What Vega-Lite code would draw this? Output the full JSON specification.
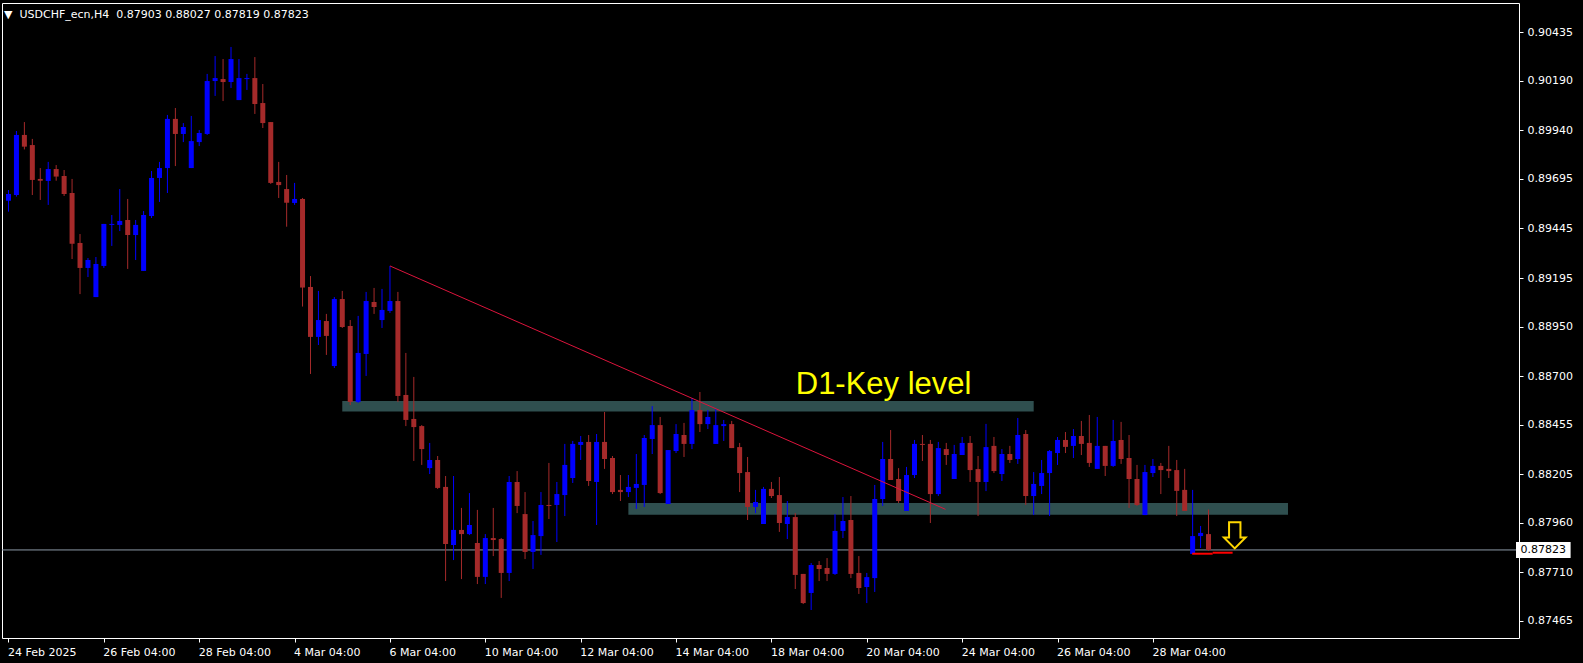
{
  "$schema": "https://vega.github.io/schema/vega-lite/v6.json",
  "width": 1517,
  "height": 635,
  "autosize": {"type": "none"},
  "padding": {"left": 2, "top": 3, "right": 64, "bottom": 25},
  "background": "#000000",
  "title": {
    "text": "▼\u00a0\u00a0USDCHF_ecn,H4\u00a0\u00a00.87903 0.88027 0.87819 0.87823",
    "anchor": "start",
    "frame": "group",
    "orient": "top",
    "baseline": "top",
    "offset": -17,
    "dx": 2,
    "font": "DejaVu Sans",
    "fontSize": 11,
    "fontWeight": "normal",
    "color": "#FFFFFF"
  },
  "config": {
    "view": {"stroke": "#FFFFFF", "strokeWidth": 1},
    "axis": {
      "grid": false,
      "domain": false,
      "tickColor": "#FFFFFF",
      "tickSize": 4,
      "labelColor": "#FFFFFF",
      "labelFont": "DejaVu Sans",
      "labelFontSize": 11,
      "labelOverlap": false,
      "labelFlush": false,
      "labelBound": false
    }
  },
  "datasets": {
    "candles": [
      {"i":0,"o":0.89585,"h":0.89639,"l":0.89530,"c":0.89619},
      {"i":1,"o":0.89614,"h":0.89937,"l":0.89606,"c":0.89917},
      {"i":2,"o":0.89917,"h":0.89982,"l":0.89844,"c":0.89858},
      {"i":3,"o":0.89866,"h":0.89897,"l":0.89614,"c":0.89690},
      {"i":4,"o":0.89695,"h":0.89750,"l":0.89589,"c":0.89686},
      {"i":5,"o":0.89685,"h":0.89781,"l":0.89564,"c":0.89745},
      {"i":6,"o":0.89745,"h":0.89765,"l":0.89686,"c":0.89707},
      {"i":7,"o":0.89710,"h":0.89740,"l":0.89609,"c":0.89619},
      {"i":8,"o":0.89624,"h":0.89695,"l":0.89291,"c":0.89368},
      {"i":9,"o":0.89372,"h":0.89417,"l":0.89114,"c":0.89246},
      {"i":10,"o":0.89246,"h":0.89296,"l":0.89200,"c":0.89286},
      {"i":11,"o":0.89099,"h":0.89301,"l":0.89099,"c":0.89266},
      {"i":12,"o":0.89256,"h":0.89468,"l":0.89246,"c":0.89468},
      {"i":13,"o":0.89463,"h":0.89513,"l":0.89357,"c":0.89468},
      {"i":14,"o":0.89463,"h":0.89644,"l":0.89432,"c":0.89483},
      {"i":15,"o":0.89488,"h":0.89594,"l":0.89241,"c":0.89412},
      {"i":16,"o":0.89412,"h":0.89488,"l":0.89286,"c":0.89463},
      {"i":17,"o":0.89231,"h":0.89533,"l":0.89231,"c":0.89513},
      {"i":18,"o":0.89508,"h":0.89735,"l":0.89498,"c":0.89700},
      {"i":19,"o":0.89700,"h":0.89781,"l":0.89579,"c":0.89750},
      {"i":20,"o":0.89750,"h":0.90018,"l":0.89624,"c":0.89998},
      {"i":21,"o":0.89998,"h":0.90053,"l":0.89760,"c":0.89922},
      {"i":22,"o":0.89922,"h":0.89977,"l":0.89881,"c":0.89957},
      {"i":23,"o":0.89750,"h":0.90013,"l":0.89750,"c":0.89886},
      {"i":24,"o":0.89881,"h":0.89942,"l":0.89861,"c":0.89927},
      {"i":25,"o":0.89922,"h":0.90225,"l":0.89917,"c":0.90189},
      {"i":26,"o":0.90189,"h":0.90315,"l":0.90114,"c":0.90204},
      {"i":27,"o":0.90199,"h":0.90300,"l":0.90088,"c":0.90184},
      {"i":28,"o":0.90184,"h":0.90361,"l":0.90154,"c":0.90300},
      {"i":29,"o":0.90093,"h":0.90300,"l":0.90093,"c":0.90204},
      {"i":30,"o":0.90199,"h":0.90225,"l":0.90144,"c":0.90204},
      {"i":31,"o":0.90204,"h":0.90310,"l":0.90023,"c":0.90073},
      {"i":32,"o":0.90078,"h":0.90174,"l":0.89952,"c":0.89977},
      {"i":33,"o":0.89982,"h":0.89982,"l":0.89670,"c":0.89675},
      {"i":34,"o":0.89680,"h":0.89781,"l":0.89599,"c":0.89664},
      {"i":35,"o":0.89644,"h":0.89715,"l":0.89454,"c":0.89575},
      {"i":36,"o":0.89574,"h":0.89675,"l":0.89564,"c":0.89594},
      {"i":37,"o":0.89594,"h":0.89599,"l":0.89051,"c":0.89147},
      {"i":38,"o":0.89150,"h":0.89205,"l":0.88711,"c":0.88898},
      {"i":39,"o":0.88898,"h":0.89130,"l":0.88857,"c":0.88983},
      {"i":40,"o":0.88978,"h":0.89014,"l":0.88807,"c":0.88903},
      {"i":41,"o":0.88751,"h":0.89099,"l":0.88741,"c":0.89089},
      {"i":42,"o":0.89089,"h":0.89130,"l":0.88943,"c":0.88948},
      {"i":43,"o":0.88953,"h":0.88983,"l":0.88554,"c":0.88570},
      {"i":44,"o":0.88570,"h":0.89004,"l":0.88565,"c":0.88817},
      {"i":45,"o":0.88812,"h":0.89125,"l":0.88701,"c":0.89079},
      {"i":46,"o":0.89074,"h":0.89145,"l":0.89014,"c":0.89049},
      {"i":47,"o":0.88983,"h":0.89140,"l":0.88943,"c":0.89034},
      {"i":48,"o":0.89029,"h":0.89256,"l":0.89019,"c":0.89079},
      {"i":49,"o":0.89079,"h":0.89125,"l":0.88570,"c":0.88600},
      {"i":50,"o":0.88605,"h":0.88817,"l":0.88448,"c":0.88479},
      {"i":51,"o":0.88484,"h":0.88696,"l":0.88272,"c":0.88443},
      {"i":52,"o":0.88448,"h":0.88453,"l":0.88252,"c":0.88332},
      {"i":53,"o":0.88236,"h":0.88363,"l":0.88206,"c":0.88277},
      {"i":54,"o":0.88277,"h":0.88297,"l":0.88131,"c":0.88136},
      {"i":55,"o":0.88141,"h":0.88196,"l":0.87666,"c":0.87853},
      {"i":56,"o":0.87848,"h":0.88196,"l":0.87772,"c":0.87924},
      {"i":57,"o":0.87924,"h":0.88035,"l":0.87676,"c":0.87903},
      {"i":58,"o":0.87903,"h":0.88110,"l":0.87898,"c":0.87949},
      {"i":59,"o":0.87858,"h":0.88025,"l":0.87651,"c":0.87687},
      {"i":60,"o":0.87687,"h":0.87903,"l":0.87651,"c":0.87883},
      {"i":61,"o":0.87883,"h":0.88035,"l":0.87792,"c":0.87873},
      {"i":62,"o":0.87878,"h":0.87883,"l":0.87581,"c":0.87707},
      {"i":63,"o":0.87707,"h":0.88196,"l":0.87666,"c":0.88166},
      {"i":64,"o":0.88166,"h":0.88221,"l":0.88009,"c":0.88045},
      {"i":65,"o":0.88004,"h":0.88115,"l":0.87777,"c":0.87813},
      {"i":66,"o":0.87813,"h":0.87969,"l":0.87727,"c":0.87898},
      {"i":67,"o":0.87893,"h":0.88115,"l":0.87798,"c":0.88050},
      {"i":68,"o":0.88050,"h":0.88262,"l":0.87979,"c":0.88045},
      {"i":69,"o":0.88050,"h":0.88166,"l":0.87863,"c":0.88105},
      {"i":70,"o":0.88100,"h":0.88358,"l":0.87994,"c":0.88252},
      {"i":71,"o":0.88186,"h":0.88373,"l":0.88161,"c":0.88358},
      {"i":72,"o":0.88353,"h":0.88398,"l":0.88277,"c":0.88368},
      {"i":73,"o":0.88368,"h":0.88403,"l":0.88146,"c":0.88171},
      {"i":74,"o":0.88166,"h":0.88408,"l":0.87949,"c":0.88368},
      {"i":75,"o":0.88368,"h":0.88519,"l":0.88232,"c":0.88282},
      {"i":76,"o":0.88287,"h":0.88297,"l":0.88105,"c":0.88115},
      {"i":77,"o":0.88126,"h":0.88201,"l":0.88070,"c":0.88115},
      {"i":78,"o":0.88115,"h":0.88201,"l":0.88090,"c":0.88141},
      {"i":79,"o":0.88136,"h":0.88307,"l":0.88030,"c":0.88156},
      {"i":80,"o":0.88151,"h":0.88403,"l":0.88040,"c":0.88388},
      {"i":81,"o":0.88383,"h":0.88549,"l":0.88307,"c":0.88453},
      {"i":82,"o":0.88453,"h":0.88494,"l":0.88105,"c":0.88110},
      {"i":83,"o":0.88055,"h":0.88327,"l":0.88055,"c":0.88327},
      {"i":84,"o":0.88322,"h":0.88458,"l":0.88312,"c":0.88408},
      {"i":85,"o":0.88403,"h":0.88464,"l":0.88292,"c":0.88358},
      {"i":86,"o":0.88358,"h":0.88590,"l":0.88332,"c":0.88529},
      {"i":87,"o":0.88529,"h":0.88620,"l":0.88418,"c":0.88458},
      {"i":88,"o":0.88458,"h":0.88529,"l":0.88433,"c":0.88494},
      {"i":89,"o":0.88358,"h":0.88534,"l":0.88358,"c":0.88453},
      {"i":90,"o":0.88448,"h":0.88479,"l":0.88373,"c":0.88458},
      {"i":91,"o":0.88458,"h":0.88474,"l":0.88337,"c":0.88337},
      {"i":92,"o":0.88342,"h":0.88363,"l":0.88115,"c":0.88211},
      {"i":93,"o":0.88216,"h":0.88292,"l":0.87974,"c":0.88040},
      {"i":94,"o":0.88040,"h":0.88126,"l":0.88009,"c":0.88065},
      {"i":95,"o":0.87954,"h":0.88141,"l":0.87954,"c":0.88131},
      {"i":96,"o":0.88131,"h":0.88166,"l":0.88085,"c":0.88095},
      {"i":97,"o":0.88100,"h":0.88191,"l":0.87914,"c":0.87959},
      {"i":98,"o":0.87954,"h":0.88070,"l":0.87878,"c":0.87989},
      {"i":99,"o":0.87989,"h":0.88009,"l":0.87626,"c":0.87697},
      {"i":100,"o":0.87702,"h":0.87702,"l":0.87550,"c":0.87555},
      {"i":101,"o":0.87606,"h":0.87757,"l":0.87520,"c":0.87747},
      {"i":102,"o":0.87747,"h":0.87767,"l":0.87666,"c":0.87727},
      {"i":103,"o":0.87732,"h":0.87782,"l":0.87666,"c":0.87702},
      {"i":104,"o":0.87702,"h":0.88004,"l":0.87697,"c":0.87919},
      {"i":105,"o":0.87919,"h":0.88090,"l":0.87883,"c":0.87969},
      {"i":106,"o":0.87974,"h":0.88095,"l":0.87681,"c":0.87702},
      {"i":107,"o":0.87707,"h":0.87792,"l":0.87601,"c":0.87631},
      {"i":108,"o":0.87636,"h":0.87707,"l":0.87555,"c":0.87686},
      {"i":109,"o":0.87681,"h":0.88151,"l":0.87611,"c":0.88080},
      {"i":110,"o":0.88080,"h":0.88368,"l":0.88045,"c":0.88282},
      {"i":111,"o":0.88282,"h":0.88428,"l":0.88176,"c":0.88176},
      {"i":112,"o":0.88181,"h":0.88236,"l":0.88060,"c":0.88070},
      {"i":113,"o":0.88020,"h":0.88242,"l":0.88020,"c":0.88201},
      {"i":114,"o":0.88201,"h":0.88378,"l":0.88186,"c":0.88358},
      {"i":115,"o":0.88358,"h":0.88403,"l":0.88272,"c":0.88353},
      {"i":116,"o":0.88358,"h":0.88378,"l":0.87959,"c":0.88105},
      {"i":117,"o":0.88105,"h":0.88368,"l":0.88095,"c":0.88337},
      {"i":118,"o":0.88332,"h":0.88363,"l":0.88252,"c":0.88302},
      {"i":119,"o":0.88181,"h":0.88353,"l":0.88181,"c":0.88307},
      {"i":120,"o":0.88302,"h":0.88393,"l":0.88302,"c":0.88363},
      {"i":121,"o":0.88363,"h":0.88398,"l":0.88166,"c":0.88226},
      {"i":122,"o":0.88231,"h":0.88297,"l":0.87994,"c":0.88166},
      {"i":123,"o":0.88166,"h":0.88459,"l":0.88120,"c":0.88342},
      {"i":124,"o":0.88348,"h":0.88393,"l":0.88211,"c":0.88221},
      {"i":125,"o":0.88206,"h":0.88332,"l":0.88171,"c":0.88307},
      {"i":126,"o":0.88307,"h":0.88348,"l":0.88262,"c":0.88277},
      {"i":127,"o":0.88282,"h":0.88489,"l":0.88257,"c":0.88403},
      {"i":128,"o":0.88408,"h":0.88428,"l":0.88050,"c":0.88095},
      {"i":129,"o":0.88095,"h":0.88216,"l":0.87999,"c":0.88156},
      {"i":130,"o":0.88146,"h":0.88277,"l":0.88105,"c":0.88211},
      {"i":131,"o":0.88211,"h":0.88327,"l":0.87994,"c":0.88322},
      {"i":132,"o":0.88312,"h":0.88393,"l":0.88252,"c":0.88378},
      {"i":133,"o":0.88378,"h":0.88418,"l":0.88312,"c":0.88343},
      {"i":134,"o":0.88348,"h":0.88433,"l":0.88287,"c":0.88398},
      {"i":135,"o":0.88398,"h":0.88474,"l":0.88302,"c":0.88358},
      {"i":136,"o":0.88363,"h":0.88504,"l":0.88242,"c":0.88262},
      {"i":137,"o":0.88232,"h":0.88494,"l":0.88232,"c":0.88348},
      {"i":138,"o":0.88348,"h":0.88348,"l":0.88196,"c":0.88247},
      {"i":139,"o":0.88247,"h":0.88479,"l":0.88242,"c":0.88373},
      {"i":140,"o":0.88378,"h":0.88469,"l":0.88257,"c":0.88282},
      {"i":141,"o":0.88287,"h":0.88403,"l":0.88035,"c":0.88181},
      {"i":142,"o":0.88181,"h":0.88252,"l":0.88045,"c":0.88050},
      {"i":143,"o":0.87999,"h":0.88252,"l":0.87999,"c":0.88216},
      {"i":144,"o":0.88211,"h":0.88282,"l":0.88191,"c":0.88247},
      {"i":145,"o":0.88247,"h":0.88262,"l":0.88105,"c":0.88226},
      {"i":146,"o":0.88232,"h":0.88348,"l":0.88186,"c":0.88221},
      {"i":147,"o":0.88226,"h":0.88277,"l":0.87994,"c":0.88121},
      {"i":148,"o":0.88126,"h":0.88232,"l":0.88020,"c":0.88020},
      {"i":149,"o":0.87803,"h":0.88126,"l":0.87803,"c":0.87893},
      {"i":150,"o":0.87893,"h":0.87944,"l":0.87833,"c":0.87909},
      {"i":151,"o":0.87903,"h":0.88027,"l":0.87819,"c":0.87823}
    ],
    "zones": [
      {"i1":42,"i2":129,"p1":0.88575,"p2":0.88521},
      {"i1":78,"i2":161,"p1":0.88060,"p2":0.88001}
    ],
    "trend": [{"i1":48,"p1":0.89256,"i2":117.9,"p2":0.88028}],
    "marks": [
      {"i1":148.94,"i2":151.52,"p":0.87804},
      {"i1":151.52,"i2":154.03,"p":0.87809}
    ],
    "arrow": [{"i":154.3,"p":0.87897}],
    "label": [{"i":99.06,"p":0.88610,"t":"D1-Key level"}],
    "last": [{"p":0.87823}]
  },
  "layer": [
    {
      "data": {"name": "zones"},
      "mark": {"type": "rect", "color": "#2F4F4F"},
      "encoding": {
        "x": {
          "field": "i1", "type": "quantitative",
          "scale": {"domain": [-0.1875, 189.4375], "nice": false, "zero": false},
          "axis": {
            "orient": "bottom",
            "title": null,
            "values": [0,12,24,36,48,60,72,84,96,108,120,132,144],
            "labelAlign": "left",
            "labelOffset": -1,
            "labelPadding": 4,
            "labelExpr": "datum.value == 0 ? '24 Feb 2025' : datum.value == 12 ? '26 Feb 04:00' : datum.value == 24 ? '28 Feb 04:00' : datum.value == 36 ? '4 Mar 04:00' : datum.value == 48 ? '6 Mar 04:00' : datum.value == 60 ? '10 Mar 04:00' : datum.value == 72 ? '12 Mar 04:00' : datum.value == 84 ? '14 Mar 04:00' : datum.value == 96 ? '18 Mar 04:00' : datum.value == 108 ? '20 Mar 04:00' : datum.value == 120 ? '24 Mar 04:00' : datum.value == 132 ? '26 Mar 04:00' : '28 Mar 04:00'"
          }
        },
        "x2": {"field": "i2"},
        "y": {
          "field": "p1", "type": "quantitative",
          "scale": {"domain": [0.873787, 0.905828], "nice": false, "zero": false},
          "axis": {
            "orient": "right",
            "title": null,
            "values": [0.90435,0.90190,0.89940,0.89695,0.89445,0.89195,0.88950,0.88700,0.88455,0.88205,0.87960,0.87710,0.87465],
            "format": ".5f",
            "labelPadding": 4
          }
        },
        "y2": {"field": "p2"}
      }
    },
    {
      "data": {"name": "last"},
      "mark": {"type": "rule", "color": "#8C98A6", "strokeWidth": 1},
      "encoding": {
        "y": {"field": "p", "type": "quantitative", "title": null}
      }
    },
    {
      "data": {"name": "candles"},
      "mark": {"type": "rule", "strokeWidth": 1},
      "encoding": {
        "x": {"field": "i", "type": "quantitative", "title": null},
        "y": {"field": "l", "type": "quantitative", "title": null},
        "y2": {"field": "h"},
        "color": {"condition": {"test": "datum.c >= datum.o", "value": "#0000FF"}, "value": "#A52A2A"}
      }
    },
    {
      "data": {"name": "candles"},
      "mark": {"type": "bar", "width": 5},
      "encoding": {
        "x": {"field": "i", "type": "quantitative", "title": null},
        "y": {"field": "o", "type": "quantitative", "title": null},
        "y2": {"field": "c"},
        "color": {"condition": {"test": "datum.c >= datum.o", "value": "#0000FF"}, "value": "#A52A2A"}
      }
    },
    {
      "data": {"name": "trend"},
      "mark": {"type": "rule", "color": "#DC143C", "strokeWidth": 1},
      "encoding": {
        "x": {"field": "i1", "type": "quantitative", "title": null},
        "x2": {"field": "i2"},
        "y": {"field": "p1", "type": "quantitative", "title": null},
        "y2": {"field": "p2"}
      }
    },
    {
      "data": {"name": "marks"},
      "mark": {"type": "rule", "color": "#FF0000", "strokeWidth": 2},
      "encoding": {
        "x": {"field": "i1", "type": "quantitative", "title": null},
        "x2": {"field": "i2"},
        "y": {"field": "p", "type": "quantitative", "title": null}
      }
    },
    {
      "data": {"name": "arrow"},
      "mark": {
        "type": "point",
        "shape": "M -0.433 -1 L 0.433 -1 L 0.433 0.16 L 0.825 0.16 L 0 1 L -0.825 0.16 L -0.433 0.16 Z",
        "size": 692,
        "filled": false,
        "stroke": "#FFD700",
        "strokeWidth": 2,
        "opacity": 1
      },
      "encoding": {
        "x": {"field": "i", "type": "quantitative", "title": null},
        "y": {"field": "p", "type": "quantitative", "title": null}
      }
    },
    {
      "data": {"name": "label"},
      "mark": {"type": "text", "font": "Liberation Sans", "fontSize": 31, "color": "#FFFF00", "align": "left", "baseline": "alphabetic"},
      "encoding": {
        "x": {"field": "i", "type": "quantitative", "title": null},
        "y": {"field": "p", "type": "quantitative", "title": null},
        "text": {"field": "t"}
      }
    },
    {
      "data": {"name": "last"},
      "mark": {"type": "rect", "color": "#FFFFFF"},
      "encoding": {
        "x": {"datum": 189.69},
        "x2": {"datum": 196.56},
        "y": {"datum": 0.87863},
        "y2": {"datum": 0.87782}
      }
    },
    {
      "data": {"name": "last"},
      "mark": {"type": "text", "font": "DejaVu Sans", "fontSize": 11, "color": "#000000", "align": "center", "baseline": "middle"},
      "encoding": {
        "x": {"datum": 193.12},
        "y": {"field": "p", "type": "quantitative", "title": null},
        "text": {"field": "p", "format": ".5f"}
      }
    }
  ]
}
